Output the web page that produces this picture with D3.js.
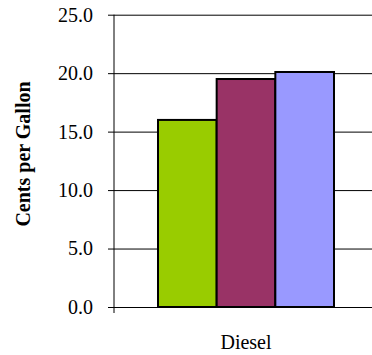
<!DOCTYPE html>
<html>
<head>
<meta charset="utf-8">
<script src="https://cdn.jsdelivr.net/npm/d3@7"></script>
<style>
	body { margin: 0; background: #fff; }
	svg text { font-family: "Liberation Serif"; }
</style>
</head>
<body>
<script>
// chart data
const categories = ["Diesel"];
const seriesNames = ["Series 1", "Series 2", "Series 3"];
const seriesValues = [16.0, 19.5, 20.1];
const seriesColors = ["#99cc00", "#993366", "#9999ff"];
const yTicks = [0, 5, 10, 15, 20, 25];

const width = 372, height = 355;
// plot area runs past the right edge of the picture, as in the original
const plot = { left: 114, right: 378, top: 14.7, bottom: 307 };

const svg = d3.select("body").append("svg")
	.attr("width", width)
	.attr("height", height);

const y = d3.scaleLinear().domain([0, 25]).range([plot.bottom, plot.top]);
const x0 = d3.scaleBand().domain(categories).range([plot.left, plot.right]).paddingInner(0).paddingOuter(0.25);
const x1 = d3.scaleBand().domain(seriesNames).range([0, x0.bandwidth()]).padding(0);

// gridlines + tick marks
const yAxis = svg.append("g")
	.attr("transform", `translate(${plot.left},0)`)
	.call(d3.axisLeft(y).tickValues(yTicks).tickSize(6).tickPadding(15).tickFormat(d3.format(".1f")));
yAxis.attr("font-family", null).attr("font-size", null);
yAxis.select(".domain").remove();
yAxis.selectAll(".tick line").attr("stroke", "#000");
yAxis.selectAll(".tick").append("line")
	.attr("x1", 0).attr("x2", width)
	.attr("stroke", "#000");
yAxis.selectAll(".tick text")
	.attr("font-size", 20)
	.attr("fill", "#000")
	.attr("dy", "0.32em");

// vertical axis line, reaching down to the category tick
svg.append("line")
	.attr("x1", plot.left).attr("x2", plot.left)
	.attr("y1", plot.top).attr("y2", plot.bottom + 6)
	.attr("stroke", "#000");

// bars
const group = svg.append("g")
	.selectAll("g")
	.data(categories)
	.join("g")
	.attr("transform", d => `translate(${x0(d)},0)`);

group.selectAll("rect")
	.data(() => seriesNames.map((s, i) => ({ name: s, value: seriesValues[i], color: seriesColors[i] })))
	.join("rect")
	.attr("x", d => x1(d.name))
	.attr("y", d => y(d.value))
	.attr("width", x1.bandwidth())
	.attr("height", d => y(0) - y(d.value))
	.attr("fill", d => d.color)
	.attr("stroke", "#000")
	.attr("stroke-width", 2);

// category label
svg.append("g")
	.selectAll("text")
	.data(categories)
	.join("text")
	.attr("x", d => x0(d) + x0.bandwidth() / 2)
	.attr("y", 349)
	.attr("text-anchor", "middle")
	.attr("font-size", 20)
	.text(d => d);

// y axis title
svg.append("text")
	.attr("transform", `translate(30,154) rotate(-90)`)
	.attr("text-anchor", "middle")
	.attr("font-size", 20)
	.attr("font-weight", "bold")
	.text("Cents per Gallon");
</script>
</body>
</html>
